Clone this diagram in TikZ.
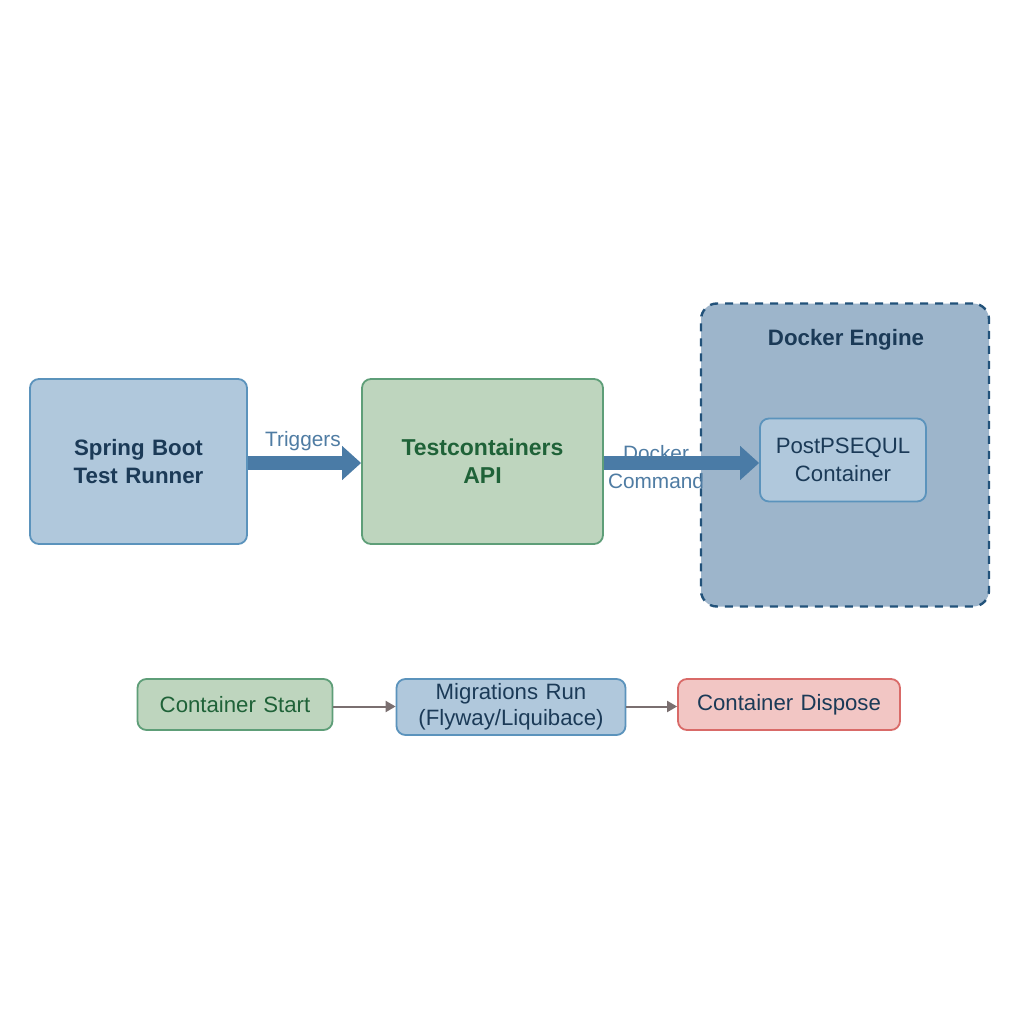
\documentclass[tikz,border=0pt]{standalone}
\usepackage{fontspec}
\setmainfont{Liberation Sans}
\usetikzlibrary{arrows.meta,positioning}
\definecolor{bluefill}{HTML}{B0C8DC}
\definecolor{blueline}{HTML}{5B93BC}
\definecolor{greenfill}{HTML}{BED5BE}
\definecolor{greenline}{HTML}{5E9E78}
\definecolor{redfill}{HTML}{F2C6C4}
\definecolor{redline}{HTML}{D96A68}
\definecolor{enginefill}{HTML}{9DB5CB}
\definecolor{engineline}{HTML}{22527A}
\definecolor{darktext}{HTML}{1B3A57}
\definecolor{greentext}{HTML}{1F6238}
\definecolor{labeltext}{HTML}{4F7CA3}
\definecolor{bigarrow}{HTML}{4A7BA6}
\definecolor{thinarrow}{HTML}{7A6F70}
\tikzset{
 basebox/.style={rounded corners=9pt,line width=1.8pt,align=center,inner sep=0pt,text width=#1},
 bluebox/.style={basebox=160pt,draw=blueline,fill=bluefill,text=darktext},
 greenbox/.style={basebox=160pt,draw=greenline,fill=greenfill,text=greentext},
 redbox/.style={basebox=160pt,draw=redline,fill=redfill,text=darktext},
 mainlabel/.style={font=\fontsize{22.3}{28}\selectfont\bfseries},
 smalllabel/.style={font=\fontsize{22.2}{27.5}\selectfont},
 edgelabel/.style={font=\fontsize{20.8}{28}\selectfont,text=labeltext,align=center,inner sep=0pt},
 bigflow/.style={line width=14pt,draw=bigarrow,-{Triangle[length=19pt,width=33pt,fill=bigarrow]}},
 thinflow/.style={line width=2pt,draw=thinarrow,-{Triangle[length=10pt,width=11pt,fill=thinarrow]}},
}
\begin{document}
\begin{tikzpicture}[x=1pt,y=-1pt]
\useasboundingbox[fill=white] (0,0) rectangle (1024,1024);
\node[bluebox,mainlabel,minimum width=217pt,minimum height=165pt,text width=200pt] (runner) at (138.5,461.5) {Spring Boot\\Test Runner};
\node[greenbox,mainlabel,font=\fontsize{23}{28}\selectfont\bfseries,minimum width=241pt,minimum height=165pt,text width=220pt] (api) at (482.5,461.5) {Testcontainers\\API};
\node[draw=engineline,fill=enginefill,rounded corners=16pt,line width=2.4pt,dash pattern=on 8pt off 7pt,minimum width=288pt,minimum height=303pt,inner sep=0pt] (engine) at (845,455) {};
\node[mainlabel,text=darktext,inner sep=0pt] (enginetitle) at (846,340) {Docker Engine};
\node[bluebox,smalllabel,minimum width=166pt,minimum height=83pt,text width=160pt] (pg) at (843,460) {PostPSEQUL\\Container};
\draw[bigflow] ([yshift=-1.5pt]runner.east) -- ([yshift=-1.5pt]api.west);
\draw[bigflow] ([yshift=-1.5pt]api.east) -- ([yshift=-3pt]pg.west);
\node[edgelabel] (triggers) at (303,441) {Triggers};
\node[edgelabel] (dockercmd) at (656,467.5) {Docker\\Command};
\node[greenbox,smalllabel,minimum width=195pt,minimum height=51pt,text width=190pt] (start) at (235,704.5) {Container Start};
\node[bluebox,smalllabel,minimum width=229pt,minimum height=56pt,text width=225pt] (migrate) at (511,707) {\raisebox{-3pt}{Migrations Run}\\[-1pt]\raisebox{-3pt}{(Flyway/Liquibace)}};
\node[redbox,smalllabel,minimum width=222pt,minimum height=51pt,text width=218pt] (dispose) at (789,704.5) {\raisebox{-1pt}{Container Dispose}};
\draw[thinflow] ([yshift=-2pt]start.east) -- ([yshift=0.5pt]migrate.west);
\draw[thinflow] ([yshift=0.5pt]migrate.east) -- ([yshift=-2pt]dispose.west);
\end{tikzpicture}
\end{document}
